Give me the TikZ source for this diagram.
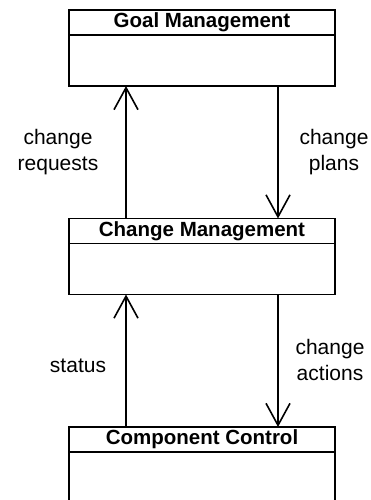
\documentclass[tikz,border=0pt]{standalone}
\usepackage{fontspec}
\setmainfont{Liberation Sans}
\usetikzlibrary{arrows.meta, positioning}

\begin{document}
\begin{tikzpicture}[
  x=1pt, y=-1pt,
  line width=1.6pt,
  >={Straight Barb[length=22pt, width=24pt, line width=1.6pt]},
  head/.style={draw, outer sep=0pt, inner sep=0pt, minimum width=266pt,
    minimum height=25pt, font=\fontsize{20.5}{24}\selectfont\bfseries},
  body/.style={draw, outer sep=0pt, inner sep=0pt, minimum width=266pt,
    minimum height=51pt},
  lbl/.style={align=center, font=\fontsize{21}{26}\selectfont},
  ]
\useasboundingbox (0,0) rectangle (371,500);
\clip (0,0) rectangle (371,500);

% boxes
\node[head] (ghead) at (202,22.5) {Goal Management};
\node[body, below=0pt of ghead] (gbody) {};
\node[head] (chead) at (202,231) {Change Management};
\node[body, below=0pt of chead] (cbody) {};
\node[head] (khead) at (202,439.5) {Component Control};
\node[body, below=0pt of khead, minimum height=80pt] (kbody) {};

% connectors
\draw[->] ([xshift=57pt]chead.north west) -- ([xshift=57pt]gbody.south west);
\draw[->] ([xshift=-57pt]gbody.south east) -- ([xshift=-57pt]chead.north east);
\draw[->] ([xshift=57pt]khead.north west) -- ([xshift=57pt]cbody.south west);
\draw[->] ([xshift=-57pt]cbody.south east) -- ([xshift=-57pt]khead.north east);

% labels
\node[lbl] (lreq) at (58,152) {change\\requests};
\node[lbl] (lplan) at (334,152) {change\\plans};
\node[lbl] (lstat) at (78,366) {status};
\node[lbl] (lact) at (330,360) {change\\actions};
\end{tikzpicture}
\end{document}
